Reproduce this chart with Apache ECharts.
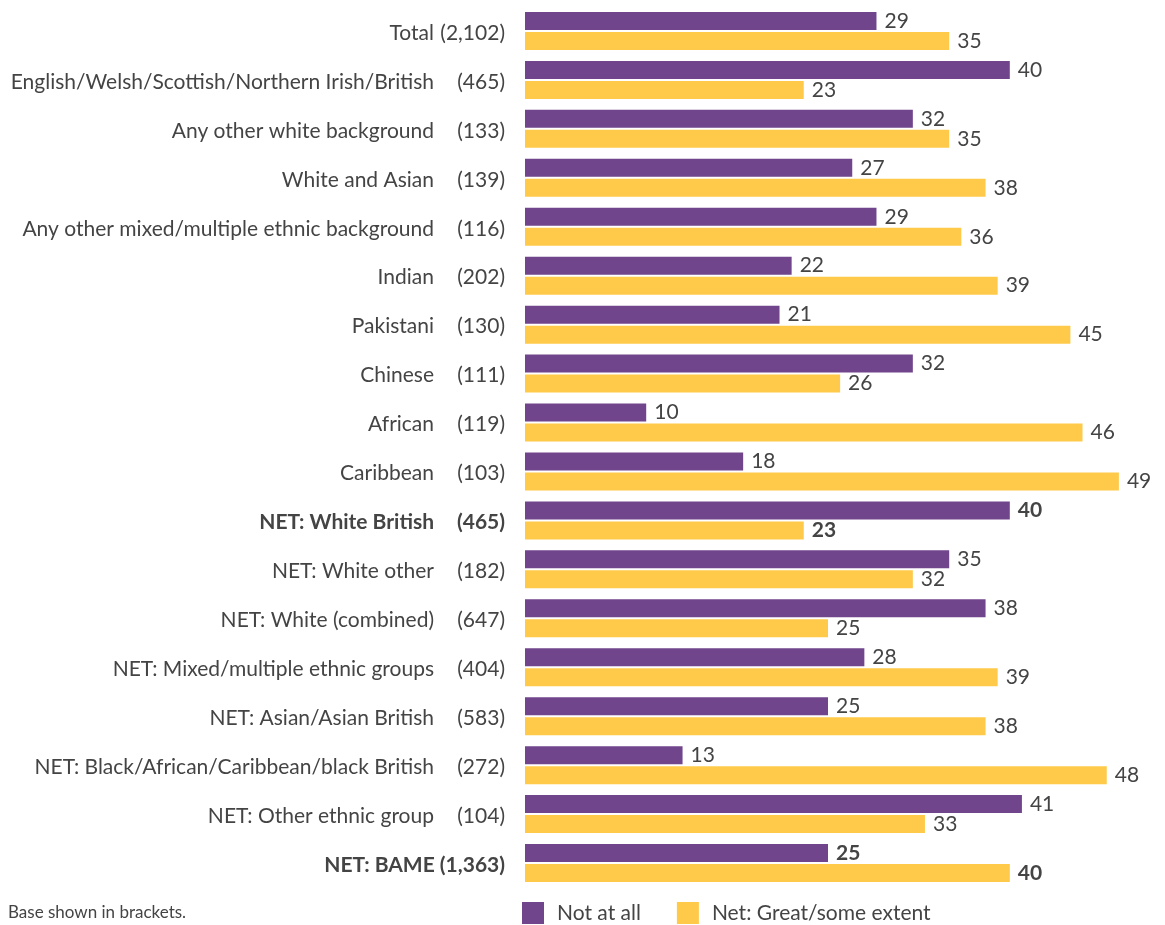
<!DOCTYPE html>
<html><head><meta charset="utf-8">
<script src="https://cdn.jsdelivr.net/npm/echarts@6/dist/echarts.min.js"></script>
<style>html,body{margin:0;padding:0;background:#fff}#c{width:1165px;height:925px}</style>
</head><body><div id="c"></div>
<script>
const categories = ["Total","English/Welsh/Scottish/Northern Irish/British","Any other white background","White and Asian","Any other mixed/multiple ethnic background","Indian","Pakistani","Chinese","African","Caribbean","NET: White British","NET: White other","NET: White (combined)","NET: Mixed/multiple ethnic groups","NET: Asian/Asian British","NET: Black/African/Caribbean/black British","NET: Other ethnic group","NET: BAME"];
const bases = ["(2,102)","(465)","(133)","(139)","(116)","(202)","(130)","(111)","(119)","(103)","(465)","(182)","(647)","(404)","(583)","(272)","(104)","(1,363)"];
const notAtAll = [29,40,32,27,29,22,21,32,10,18,40,35,38,28,25,13,41,25];
const greatSome = [35,23,35,38,36,39,45,26,46,49,23,32,25,39,38,48,33,40];
const boldRows = ["NET: White British","NET: BAME"];
const seriesNames = ["Not at all","Net: Great/some extent"];

const FONT = 'Lato';
const TXT = '#444444';
const FS = 21;
const cats = categories.map((c,i)=>c+'|'+i);
function mk(vals){
  return vals.map((v,i)=> boldRows.includes(categories[i]) ? {value:v,label:{fontWeight:'bold'}} : v);
}
const chart = echarts.init(document.getElementById('c'));
chart.setOption({
  animation:false,
  textStyle:{fontFamily:FONT},
  grid:{left:525, top:6.5, height:881, width:606},
  xAxis:{type:'value', min:0, max:50, show:false},
  yAxis:{type:'category', inverse:true, data:cats,
    axisLine:{show:false}, axisTick:{show:false}, splitLine:{show:false},
    axisLabel:{margin:20, align:'right', padding:[4,0,0,0],
      formatter:function(v){
        const i = +v.split('|')[1];
        const n = categories[i];
        if(n==='NET: BAME') return '{bb|'+n+' '+bases[i]+'}';
        if(boldRows.includes(n)) return '{nb|'+n+'}{cb|'+bases[i]+'}';
        return '{n|'+n+'}{c|'+bases[i]+'}';
      },
      rich:{
        n:{width:429, align:'right', fontSize:FS, color:TXT, fontFamily:FONT},
        c:{width:71, align:'right', fontSize:FS, color:TXT, fontFamily:FONT},
        nb:{width:429, align:'right', fontSize:FS, color:TXT, fontFamily:FONT, fontWeight:'bold'},
        cb:{width:71, align:'right', fontSize:FS, color:TXT, fontFamily:FONT, fontWeight:'bold'},
        bb:{fontSize:FS, color:TXT, fontFamily:FONT, fontWeight:'bold'}
      }
    }
  },
  legend:{left:517, top:897, itemWidth:22, itemHeight:22, itemGap:36, icon:'rect',
    textStyle:{fontSize:FS, color:TXT, fontFamily:FONT, padding:[2,0,0,8]},
    data:seriesNames},
  graphic:[{type:'text', left:8, top:904, style:{text:'Base shown in brackets.', fontSize:17, fill:TXT, fontFamily:FONT}}],
  series:[
    {name:seriesNames[0], type:'bar', data:mk(notAtAll), barWidth:18, barGap:'11%',
      itemStyle:{color:'#70458C'},
      label:{show:true, position:'right', distance:8, fontSize:FS, color:TXT, fontFamily:FONT}},
    {name:seriesNames[1], type:'bar', data:mk(greatSome), barWidth:18,
      itemStyle:{color:'#FFCA4A'},
      label:{show:true, position:'right', distance:8, fontSize:FS, color:TXT, fontFamily:FONT}}
  ]
});
</script></body></html>
